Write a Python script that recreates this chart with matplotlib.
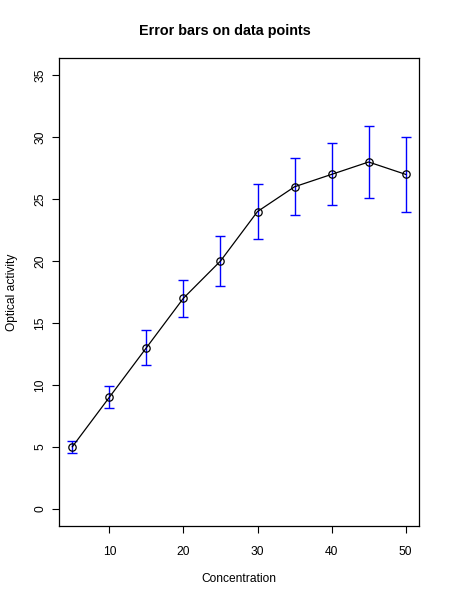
import matplotlib
matplotlib.use("Agg")
import matplotlib.pyplot as plt

concentration = [5, 10, 15, 20, 25, 30, 35, 40, 45, 50]
activity = [5, 9, 13, 17, 20, 24, 26, 27, 28, 27]
errors = [0.5, 0.9, 1.4, 1.5, 2.0, 2.2, 2.3, 2.5, 2.9, 3.0]
x_ticks = [10, 20, 30, 40, 50]
y_ticks = [0, 5, 10, 15, 20, 25, 30, 35]

plt.rcParams['font.family'] = ['Liberation Sans', 'DejaVu Sans']

fig = plt.figure(figsize=(4.5, 6), dpi=100)
ax = fig.add_axes([59/450, 1-526/600, 360/450, 468/600])

ax.errorbar(concentration, activity, yerr=errors, fmt='none', ecolor='#0000ff',
            elinewidth=1.0, capsize=3.6, capthick=1.0, zorder=2)
ax.plot(concentration, activity, color='black', lw=0.9, marker='o', markersize=5.3,
        markerfacecolor='none', markeredgecolor='black', markeredgewidth=0.9, zorder=3)

xr = max(concentration) - min(concentration)
ax.set_xlim(min(concentration) - 0.04*xr, max(concentration) + 0.04*xr)
ax.set_ylim(0 - 0.04*35, 35 + 0.04*35)
ax.set_xticks(x_ticks)
ax.set_yticks(y_ticks)
ax.tick_params(axis='both', direction='out', length=5.2, width=0.8, labelsize=8.64)
ax.tick_params(axis='x', pad=9)
ax.tick_params(axis='y', pad=4)
for lab in ax.get_yticklabels():
    lab.set_rotation(90)
    lab.set_va('center')
for s in ax.spines.values():
    s.set_linewidth(0.9)
    s.set_color('black')

ax.set_xlabel('Concentration', fontsize=8.64)
ax.set_ylabel('Optical activity', fontsize=8.64)
ax.xaxis.set_label_coords(0.5, -(573.5-526)/468)
ax.yaxis.set_label_coords((18-59)/360, 0.5)
fig.text(0.5, 1-35.5/600, 'Error bars on data points', ha='center', va='baseline',
         fontsize=10.37, fontweight='bold')

fig.savefig('out.png', dpi=100)
